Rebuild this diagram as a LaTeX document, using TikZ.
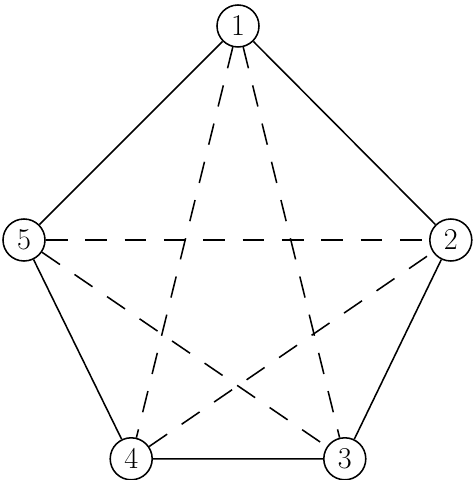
\documentclass[tikz,border=0pt]{standalone}
\usepackage{fix-cm}
\tikzstyle{vertex}=[circle, draw=black, line width=1.1pt, minimum size=1.05cm, inner sep=0pt, font=\fontsize{21.5}{25}\selectfont]
\tikzstyle{edge}=[line width=1.1pt]
\tikzstyle{diag}=[line width=1.1pt, dash pattern=on 15.5pt off 12.5pt]

\begin{document}
\begin{tikzpicture}
	\useasboundingbox (0,0) rectangle (11.9,12);
	% vertices of the pentagon
	\node[vertex] (v1) at ( 5.95,11.35) {1};
	\node[vertex] (v2) at (11.27, 6.0) {2};
	\node[vertex] (v3) at ( 8.62, 0.53) {3};
	\node[vertex] (v4) at ( 3.28, 0.53) {4};
	\node[vertex] (v5) at ( 0.6 , 6.0) {5};

	% outer edges
	\draw[edge] (v1) -- (v2) -- (v3) -- (v4) -- (v5) -- (v1);

	% diagonals
	\draw[diag] (v1) -- (v3);
	\draw[diag] (v1) -- (v4);
	\draw[diag] (v5) -- (v2);
	\draw[diag] (v5) -- (v3);
	\draw[diag] (v4) -- (v2);
\end{tikzpicture}
\end{document}
